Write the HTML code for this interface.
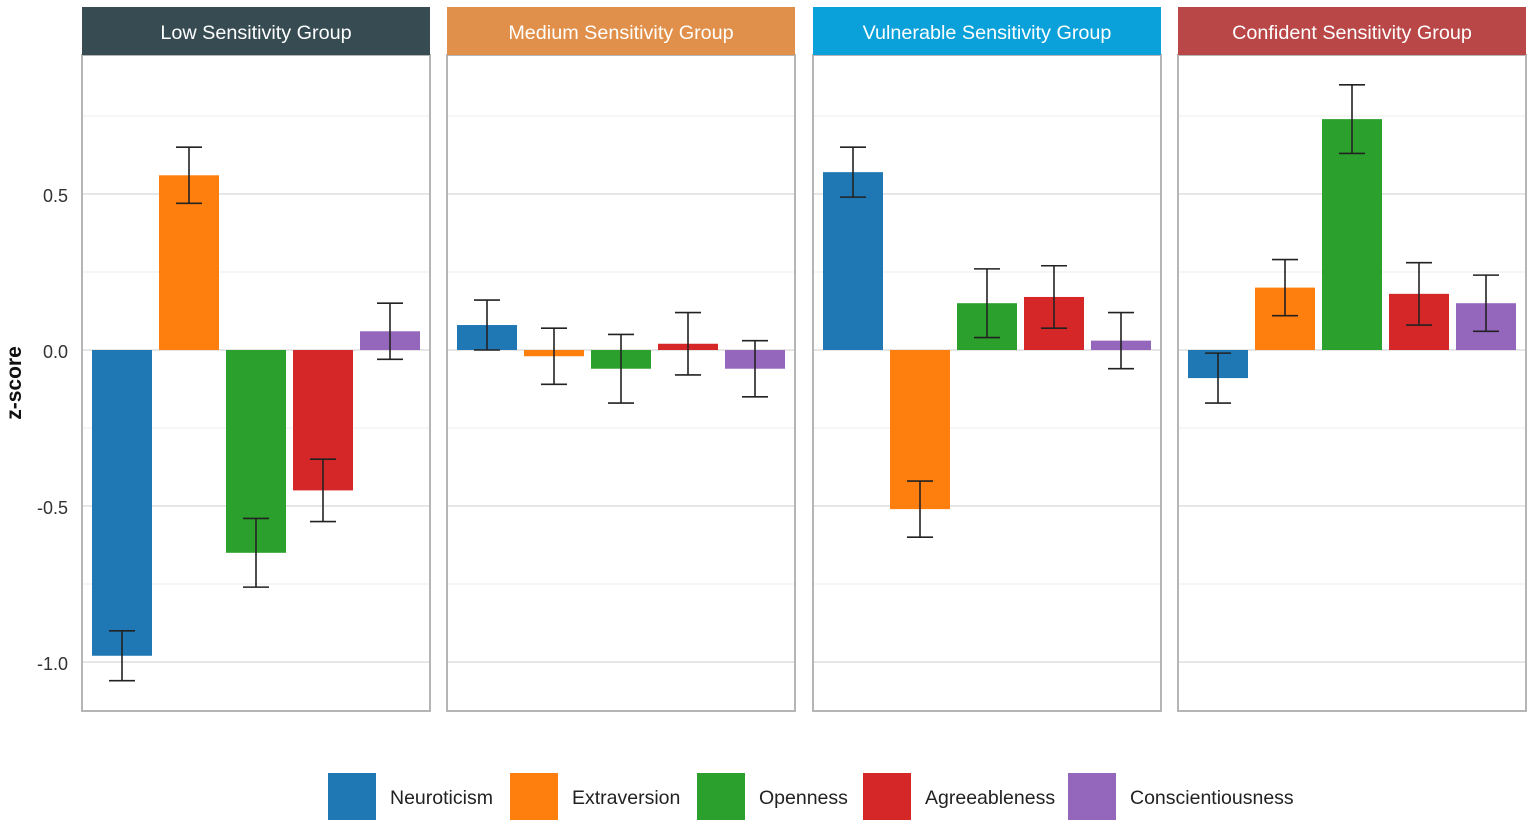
<!DOCTYPE html>
<html><head><meta charset="utf-8"><style>
body{margin:0;background:#fff;}
svg{display:block;font-family:"Liberation Sans",Arial,sans-serif;}
</style></head><body>
<svg id="chart" width="1535" height="828"></svg>
<script>
const groups=["Low Sensitivity Group","Medium Sensitivity Group","Vulnerable Sensitivity Group","Confident Sensitivity Group"];
const groupColors=["#364b52","#e0904a","#0aa0d9","#b94747"];
const traits=["Neuroticism","Extraversion","Openness","Agreeableness","Conscientiousness"];
const traitColors=["#1f77b4","#ff7f0e","#2ca02c","#d62728","#9467bd"];
const lowVals=[-0.98,0.56,-0.65,-0.45,0.06];
const lowErr=[0.08,0.09,0.11,0.10,0.09];
const medVals=[0.08,-0.02,-0.06,0.02,-0.06];
const medErr=[0.08,0.09,0.11,0.10,0.09];
const vulVals=[0.57,-0.51,0.15,0.17,0.03];
const vulErr=[0.08,0.09,0.11,0.10,0.09];
const confVals=[-0.09,0.20,0.74,0.18,0.15];
const confErr=[0.08,0.09,0.11,0.10,0.09];
const yTicks=[0.5,0.0,-0.5,-1.0];
const yTickLabels=["0.5","0.0","-0.5","-1.0"];
const yMinor=[0.75,0.25,-0.25,-0.75];
const allVals=[lowVals,medVals,vulVals,confVals];
const allErr=[lowErr,medErr,vulErr,confErr];

const svg=document.getElementById('chart');
const NS="http://www.w3.org/2000/svg";
function mk(t,a,p){const e=document.createElementNS(NS,t);for(const k in a)e.setAttribute(k,a[k]);(p||svg).appendChild(e);return e;}
const y=v=>350-v*312;
const panelX=[82,447,813,1178], panelW=348, panelTop=55, panelBottom=711;
const step=67;
const xBar=(p,i)=>panelX[p]+40+i*step;

groups.forEach((g,p)=>{
  const G=mk('g',{});
  
  
  const x0=panelX[p];
  yMinor.forEach(v=>{const l=mk('line',{x1:x0,x2:x0+panelW,y1:y(v),y2:y(v),stroke:'#ececec','stroke-width':1},G);
    
    });
  yTicks.forEach(v=>{const l=mk('line',{x1:x0,x2:x0+panelW,y1:y(v),y2:y(v),stroke:'#dedede','stroke-width':1.5},G);
    
    });
  allVals[p].forEach((v,i)=>{
    const cx=xBar(p,i);
    const r=mk('rect',{x:cx-30,y:Math.min(y(v),y(0)),width:60,height:Math.abs(y(v)-y(0)),fill:traitColors[i]},G);
    
    
    const e=allErr[p][i];
    const eg=mk('g',{stroke:'#222','stroke-width':1.6},G);
    
    
    mk('line',{x1:cx,x2:cx,y1:y(v+e),y2:y(v-e)},eg);
    mk('line',{x1:cx-13,x2:cx+13,y1:y(v+e),y2:y(v+e)},eg);
    mk('line',{x1:cx-13,x2:cx+13,y1:y(v-e),y2:y(v-e)},eg);
  });
  const b=mk('rect',{x:x0,y:panelTop,width:panelW,height:panelBottom-panelTop,fill:'none',stroke:'#b5b5b5','stroke-width':2},G);
  
  
  const h=mk('rect',{x:x0,y:7,width:panelW,height:48,fill:groupColors[p]},G);
  
  
  const t=mk('text',{x:x0+panelW/2,y:39,'text-anchor':'middle',fill:'#fff','font-size':19.8},G);
  t.textContent=g;
  
  
});
yTicks.forEach((v,i)=>{
  const t=mk('text',{x:68,y:y(v)+8,'text-anchor':'end',fill:'#333','font-size':18});
  t.textContent=yTickLabels[i];
  
  
});
const yt=mk('text',{x:0,y:0,transform:'translate(21,383) rotate(-90)','text-anchor':'middle','font-size':21,'font-weight':'bold',fill:'#111'});
yt.textContent='z-score';


const keyX=[328,510,697,863,1068];
traits.forEach((tr,i)=>{
  const g=mk('g',{});
  
  
  mk('rect',{x:keyX[i],y:773,width:48,height:47,fill:traitColors[i]},g);
  const t=mk('text',{x:keyX[i]+62,y:804,'font-size':19.5,fill:'#222'},g);
  t.textContent=tr;
});
</script>
</body></html>
